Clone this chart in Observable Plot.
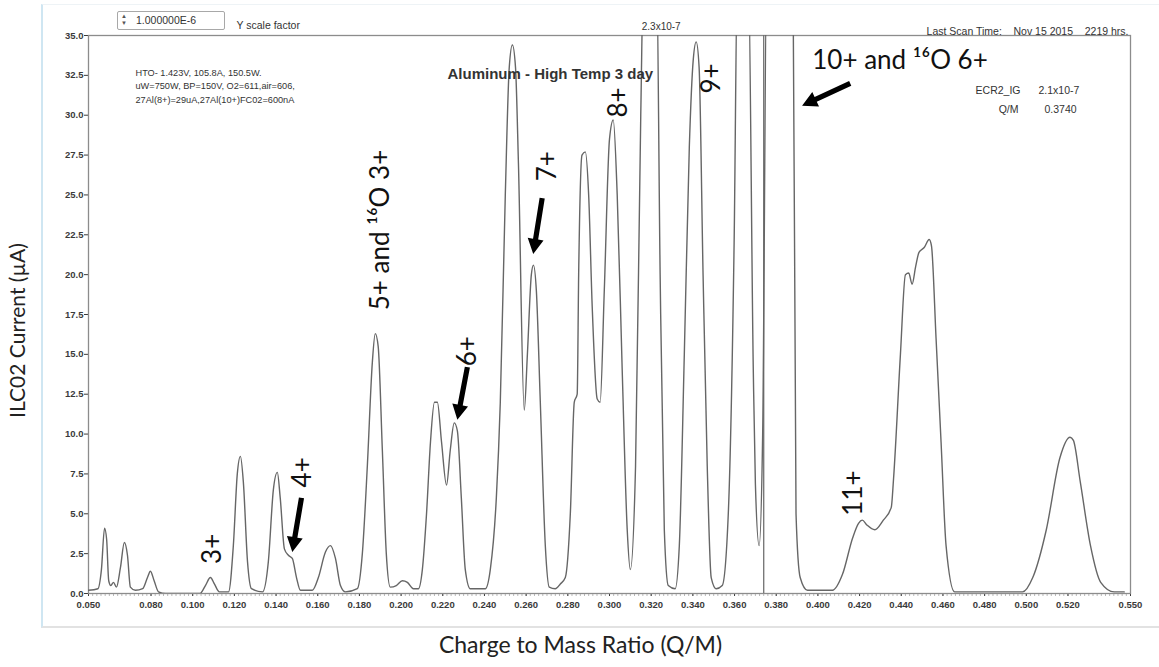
<!DOCTYPE html>
<html>
<head>
<meta charset="utf-8">
<script src="https://cdn.jsdelivr.net/npm/d3@7"></script>
<script src="https://cdn.jsdelivr.net/npm/@observablehq/plot@0.6"></script>
<style>
  html,body{margin:0;padding:0;background:#fff;}
  #wrap{position:relative;width:1159px;height:667px;overflow:hidden;}
  #panel{position:absolute;left:41px;top:4px;width:1118px;height:624px;border-left:2px solid #cfe6f2;border-bottom:2px solid #e2e2e2;border-top:1px solid #eef3f6;box-sizing:border-box;}
  #scalebox{position:absolute;left:117px;top:11px;width:108px;height:19px;border:1px solid #a8a8a8;border-radius:2px;box-sizing:border-box;background:#fff;font:10.5px "Liberation Sans",Arial,sans-serif;color:#333;}
  #scalebox .spin{position:absolute;left:3px;top:1px;font-size:6px;line-height:7px;color:#555;}
  #scalebox .val{position:absolute;left:18px;top:2px;}
  #chart{position:absolute;left:0;top:0;}
</style>
</head>
<body>
<div id="wrap">
  <div id="panel"></div>
  <div id="chart"></div>
  <div id="scalebox"><span class="spin">▲<br>▼</span><span class="val">1.000000E-6</span></div>
</div>
<script>
// ---- spectrum (Q/M vs current in µA) ----
const qm = [
  0.0500,0.0545,0.0562,0.0577,0.0587,0.0597,0.0607,0.0620,0.0634,0.0653,0.0672,0.0687,0.0701,0.0725,0.0760,0.0783,0.0797,0.0815,0.0836,0.0870,
  0.1035,0.1061,0.1085,0.1104,0.1128,0.1172,0.1195,0.1214,0.1229,0.1243,0.1263,0.1282,0.1335,0.1363,0.1387,0.1406,0.1420,0.1440,0.1459,0.1478,
  0.1498,0.1517,0.1574,0.1603,0.1637,0.1661,0.1685,0.1709,0.1733,0.1790,0.1814,0.1838,0.1862,0.1876,0.1890,0.1910,0.1929,0.1948,0.1977,0.2006,
  0.2030,0.2059,0.2083,0.2102,0.2122,0.2141,0.2160,0.2174,0.2194,0.2218,0.2236,0.2255,0.2270,0.2289,0.2308,0.2332,0.2404,0.2428,0.2457,0.2476,
  0.2500,0.2519,0.2534,0.2549,0.2563,0.2591,0.2606,0.2625,0.2635,0.2649,0.2668,0.2692,0.2711,0.2740,0.2764,0.2788,0.2812,0.2831,0.2845,0.2852,
  0.2868,0.2884,0.2900,0.2917,0.2941,0.2955,0.2975,0.3000,0.3018,0.3037,0.3061,0.3085,0.3100,0.3125,0.3150,0.3165,0.3225,0.3243,0.3263,0.3282,
  0.3315,0.3335,0.3359,0.3383,0.3402,0.3416,0.3430,0.3449,0.3469,0.3488,0.3512,0.3541,0.3570,0.3598,0.3615,0.3665,0.3690,0.3700,0.3718,0.3735,
  0.3755,0.3880,0.3895,0.3915,0.3950,0.4070,0.4118,0.4167,0.4195,0.4213,0.4235,0.4273,0.4314,0.4352,0.4363,0.4396,0.4420,0.4436,0.4452,0.4469,
  0.4485,0.4510,0.4534,0.4545,0.4567,0.4591,0.4615,0.4656,0.4982,0.5031,0.5096,0.5161,0.5210,0.5226,0.5259,0.5308,0.5357,0.5422,0.5470
];
const current = [
  0.2,0.3,1.5,4.1,3.4,0.8,0.5,0.7,0.4,1.6,3.2,2.4,0.4,0.2,0.3,1.0,1.4,0.8,0.1,0.0,
  0.0,0.5,1.0,0.6,0.1,0.1,3.0,7.5,8.6,7.0,2.0,0.3,0.1,2.0,6.5,7.6,6.0,2.8,2.4,2.2,
  1.0,0.2,0.2,1.0,2.6,3.0,2.2,0.5,0.1,0.3,2.5,8.0,14.5,16.3,15.5,9.0,2.5,0.4,0.5,0.8,
  0.7,0.3,0.3,1.5,5.0,9.5,12.0,12.0,9.5,6.8,9.0,10.7,10.2,6.0,1.5,0.3,0.3,1.5,6.0,12.0,
  25.0,33.0,34.4,33.0,27.0,11.5,15.0,20.0,20.6,19.0,12.0,3.0,0.4,0.3,0.6,1.0,5.0,12.0,12.5,20.0,
  27.5,27.7,25.0,18.0,12.2,12.0,19.0,28.5,29.7,25.0,14.0,4.0,1.5,8.0,30.0,40.0,40.0,20.0,4.0,0.5,
  0.3,3.0,15.0,28.0,33.5,34.6,33.0,20.0,8.0,1.0,0.3,0.5,5.0,22.0,40.0,40.0,14.0,6.9,3.0,10.0,
  40.0,40.0,5.0,1.0,0.2,0.2,1.2,3.5,4.4,4.6,4.3,4.0,4.6,5.4,7.2,15.0,20.0,20.1,19.4,20.5,
  21.4,21.7,22.2,21.8,16.0,9.5,3.0,0.1,0.1,1.0,4.0,8.5,9.8,9.6,7.0,3.0,0.7,0.1,0.1
];

// ---- axis ticks ----
const xTicks = [0.05,0.08,0.10,0.12,0.14,0.16,0.18,0.20,0.22,0.24,0.26,0.28,0.30,0.32,0.34,0.36,0.38,0.40,0.42,0.44,0.46,0.48,0.50,0.52,0.55];
const yTicks = [0,2.5,5,7.5,10,12.5,15,17.5,20,22.5,25,27.5,30,32.5,35];

// ---- annotations (anchored in data units) ----
const peakLabels = ["3+","4+","5+ and ¹⁶O 3+","6+","7+","8+","9+","11+","10+ and ¹⁶O 6+"];
const peakLabelQM = [0.1095,0.1526,0.1900,0.2318,0.2701,0.3042,0.3488,0.4174,0.4394];
const peakLabelY  = [2.8,7.6,22.8,15.2,26.8,30.8,32.3,6.3,33.4];
const peakLabelRotate = [-90,-90,-90,-90,-90,-90,-90,-90,0];

const arrowFromQM = [0.1522,0.2318,0.2677,0.4155];
const arrowFromY  = [6.0,14.2,24.8,32.0];
const arrowToQM   = [0.1478,0.2270,0.2634,0.3924];
const arrowToY    = [2.6,10.9,21.3,30.6];

const cursorQM = 0.374;
const offScaleLabelQM = 0.3248;

const W = 1159, H = 667, mL = 88, mR = 29, mT = 35, mB = 74;
const xDomain = [0.05, 0.55], yDomain = [0, 35];
const sx = d3.scaleLinear(xDomain, [mL, W - mR]);
const sy = d3.scaleLinear(yDomain, [H - mB, mT]);

const spectrum = qm.map((q, i) => ({qm: q, current: current[i]}));
const labels = peakLabels.map((t, i) => ({text: t, qm: peakLabelQM[i], y: peakLabelY[i], rotate: peakLabelRotate[i]}));
const arrows = arrowFromQM.map((_, i) => {
  const dxp = sx(arrowToQM[i]) - sx(arrowFromQM[i]);
  const dyp = sy(arrowToY[i]) - sy(arrowFromY[i]);
  return {qm: arrowToQM[i], y: arrowToY[i], rotate: Math.atan2(dxp, -dyp) * 180 / Math.PI, length: Math.hypot(dxp, dyp)};
});
const fatArrow = {draw(ctx, l) {
  const w = 2.6, hw = 8, hl = 15;
  ctx.moveTo(-w, 0); ctx.lineTo(-w, -(l - hl)); ctx.lineTo(-hw, -(l - hl)); ctx.lineTo(0, -l);
  ctx.lineTo(hw, -(l - hl)); ctx.lineTo(w, -(l - hl)); ctx.lineTo(w, 0); ctx.closePath();
}};

const sans = "'Liberation Sans', Arial, sans-serif";
const hum = "Lato, 'Open Sans', sans-serif";
const minorTicks = d3.range(0, 251).map(i => 0.05 + i * 0.002);

const chart = Plot.plot({
  width: W, height: H,
  marginLeft: mL, marginRight: mR, marginTop: mT, marginBottom: mB,
  x: {domain: xDomain},
  y: {domain: yDomain},
  length: {type: "identity"},
  style: {background: "transparent", fontFamily: sans},
  marks: [
    Plot.axisX({ticks: minorTicks, tickSize: 3, text: null, label: null, stroke: "#9a9a9a", strokeWidth: 0.7}),
    Plot.axisX({ticks: xTicks, tickFormat: d3.format(".3f"), tickSize: 3, tickPadding: 5, label: null,
      fontSize: 9.5, fontWeight: "bold", color: "#3a3a3a"}),
    Plot.axisY({ticks: yTicks, tickFormat: d3.format(".1f"), tickSize: 4, tickPadding: 1, label: null,
      fontSize: 9.5, fontWeight: "bold", color: "#3a3a3a"}),
    Plot.frame({stroke: "#8c8c8c", strokeWidth: 1.3}),
    Plot.ruleX([cursorQM], {stroke: "#707070", strokeWidth: 1.3}),
    Plot.line(spectrum, {x: "qm", y: "current", stroke: "#666", strokeWidth: 1.4, curve: "monotone-x", clip: true}),
    Plot.vector(arrows, {x: "qm", y: "y", rotate: "rotate", length: "length", anchor: "end", shape: fatArrow, fill: "#000", stroke: "none"}),
    Plot.text(labels, {x: "qm", y: "y", text: "text", rotate: "rotate", fontSize: 26, fontFamily: hum, fill: "#111"}),
    // header / panel texts
    Plot.text(["2.3x10-7"], {x: () => offScaleLabelQM, frameAnchor: "top", dy: -13, fontSize: 10, fill: "#333"}),
    Plot.text(["Last Scan Time:\u00a0\u00a0\u00a0\u00a0Nov 15 2015\u00a0\u00a0\u00a0\u00a02219 hrs."], {frameAnchor: "top-right", textAnchor: "end", dx: -2, dy: -8, fontSize: 10.5, fill: "#333"}),
    Plot.text(["Y scale factor"], {frameAnchor: "top-left", textAnchor: "start", dx: 148, dy: -14, fontSize: 10.5, fill: "#333"}),
    Plot.text(["HTO- 1.423V, 105.8A, 150.5W.\nuW=750W, BP=150V, O2=611,air=606,\n27Al(8+)=29uA,27Al(10+)FC02=600nA"],
      {frameAnchor: "top-left", textAnchor: "start", lineAnchor: "top", dx: 47, dy: 31, lineHeight: 1.45, fontSize: 9.2, fill: "#333"}),
    Plot.text(["Aluminum - High Temp 3 day"], {frameAnchor: "top-left", textAnchor: "start", dx: 359, dy: 33, fontSize: 15, fontWeight: "bold", fill: "#333"}),
    Plot.text(["ECR2_IG"], {frameAnchor: "top-right", textAnchor: "end", dx: -110, dy: 51, fontSize: 10.5, fill: "#333"}),
    Plot.text(["2.1x10-7"], {frameAnchor: "top-right", textAnchor: "start", dx: -92, dy: 51, fontSize: 10.5, fill: "#333"}),
    Plot.text(["Q/M"], {frameAnchor: "top-right", textAnchor: "end", dx: -112, dy: 70, fontSize: 10.5, fill: "#333"}),
    Plot.text(["0.3740"], {frameAnchor: "top-right", textAnchor: "start", dx: -86, dy: 70, fontSize: 10.5, fill: "#333"}),
    // axis titles
    Plot.text(["ILC02 Current (µA)"], {frameAnchor: "left", textAnchor: "middle", rotate: -90, dx: -70, dy: 16, fontSize: 21, fontFamily: hum, fill: "#222"}),
    Plot.text(["Charge to Mass Ratio (Q/M)"], {frameAnchor: "bottom", dx: -29, dy: 59, fontSize: 23, fontFamily: hum, fill: "#222"})
  ]
});
document.getElementById("chart").appendChild(chart);
</script>
</body>
</html>
